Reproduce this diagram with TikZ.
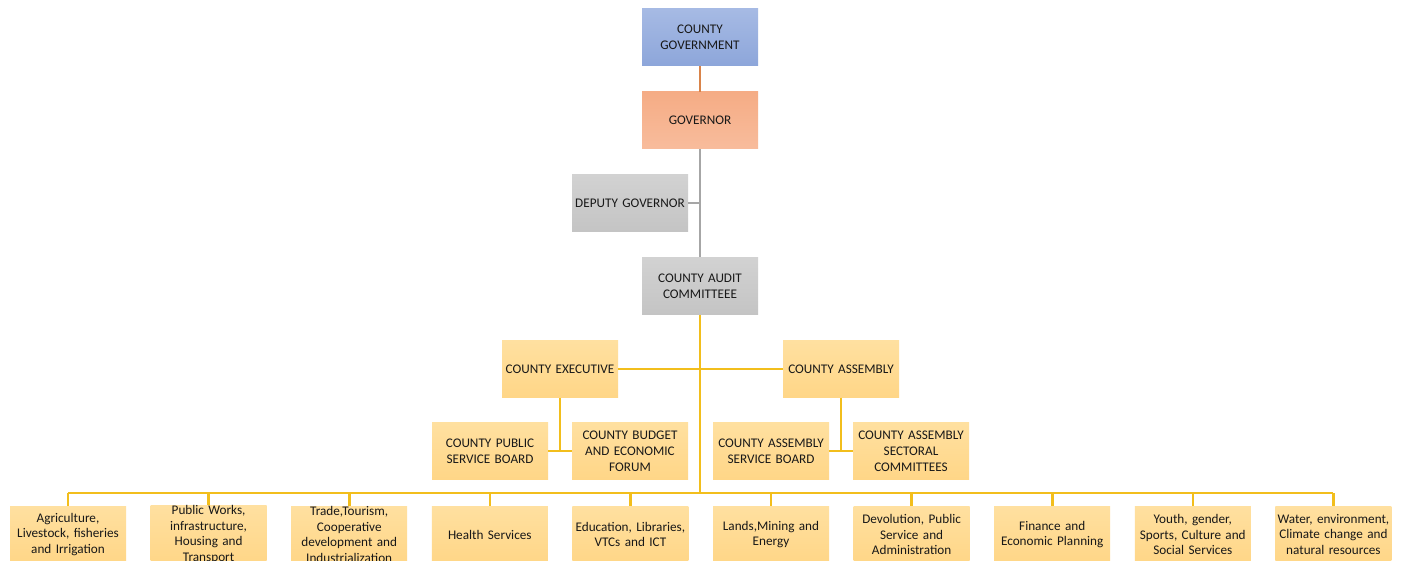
\documentclass[tikz,border=0pt]{standalone}
\usepackage{fontspec}
\setmainfont{Carlito}
\definecolor{boxY}{HTML}{FFD687}
\definecolor{boxYt}{HTML}{FFE0A0}
\definecolor{lineY}{HTML}{F2BE1C}
\definecolor{boxG}{HTML}{C4C4C4}
\definecolor{boxGt}{HTML}{D2D2D2}
\definecolor{lineG}{HTML}{A6A6A6}
\definecolor{boxB}{HTML}{8DA6DA}
\definecolor{boxBt}{HTML}{A6BAE4}
\definecolor{boxS}{HTML}{F5AC85}
\definecolor{boxSt}{HTML}{F8BC9C}
\definecolor{lineO}{HTML}{D9844A}
\definecolor{txt}{HTML}{181818}
\tikzset{
  orgbox/.style={minimum width=116pt, minimum height=57pt, inner sep=0pt,
    text width=116pt, align=center, text=txt,
    font=\fontsize{13.2pt}{15.8pt}\selectfont},
  ybox/.style={orgbox, top color=boxYt, bottom color=boxY},
  gbox/.style={orgbox, top color=boxGt, bottom color=boxG},
  bbox/.style={orgbox, top color=boxBt, bottom color=boxB},
  sbox/.style={orgbox, top color=boxS, bottom color=boxSt},
  yline/.style={draw=lineY, line width=2.6pt},
  gline/.style={draw=lineG, line width=2.6pt},
  oline/.style={draw=lineO, line width=2.6pt},
}
\begin{document}
\begin{tikzpicture}[x=1pt,y=-1pt]
\useasboundingbox (0,0) rectangle (1401,561);
\clip (0,0) rectangle (1401,561);
\fill[white] (0,0) rectangle (1401,561);

% nodes
\node[bbox] (cg) at (700,37.5) {COUNTY\\GOVERNMENT};
\node[sbox] (gov) at (700,120.5) {GOVERNOR};
\node[gbox] (dep) at (630,203) {DEPUTY GOVERNOR};
\node[gbox] (aud) at (700,286) {COUNTY AUDIT\\COMMITTEEE};
\node[ybox] (exe) at (560,369) {COUNTY EXECUTIVE};
\node[ybox] (asm) at (841,369) {COUNTY ASSEMBLY};
\node[ybox] (psb) at (490,451) {COUNTY PUBLIC\\SERVICE BOARD};
\node[ybox] (bud) at (630,451) {COUNTY BUDGET\\AND ECONOMIC\\FORUM};
\node[ybox] (asb) at (771,451) {COUNTY ASSEMBLY\\SERVICE BOARD};
\node[ybox] (sec) at (911,451) {COUNTY ASSEMBLY\\SECTORAL\\COMMITTEES};

\node[ybox] (d1) at (68,534.5) {Agriculture,\\Livestock, fisheries\\and Irrigation};
\node[ybox] (d2) at (208.6,534.5) {Public Works,\\infrastructure,\\Housing and\\Transport};
\node[ybox] (d3) at (349.2,534.5) {Trade,Tourism,\\Cooperative\\development and\\Industrialization};
\node[ybox] (d4) at (489.8,534.5) {Health Services};
\node[ybox] (d5) at (630.4,534.5) {Education, Libraries,\\VTCs and ICT};
\node[ybox] (d6) at (771,534.5) {Lands,Mining and\\Energy};
\node[ybox] (d7) at (911.6,534.5) {Devolution, Public\\Service and\\Administration};
\node[ybox] (d8) at (1052.2,534.5) {Finance and\\Economic Planning};
\node[ybox] (d9) at (1192.8,534.5) {Youth, gender,\\Sports, Culture and\\Social Services};
\node[ybox] (d10) at (1333.4,534.5) {Water, environment,\\Climate change and\\natural resources};

% connectors
\draw[oline] (cg.south) -- (gov.north);
\draw[gline] (gov.south) -- (aud.north);
\draw[gline] (dep.east) -- (dep.east -| gov.south);
\coordinate (bus) at (700,493);
\draw[yline] (aud.south) -- (bus);
\draw[yline] (exe.east) -- (asm.west);
\draw[yline] (exe.south) -- (exe.south |- psb.east);
\draw[yline] (psb.east) -- (bud.west);
\draw[yline] (asm.south) -- (asm.south |- asb.east);
\draw[yline] (asb.east) -- (sec.west);
\draw[yline] (d1.north |- bus) -- (d10.north |- bus);
\foreach \d in {d1,d2,d3,d4,d5,d6,d7,d8,d9,d10}{
  \draw[yline] (\d.north |- bus) -- (\d.north);
}
\end{tikzpicture}
\end{document}
